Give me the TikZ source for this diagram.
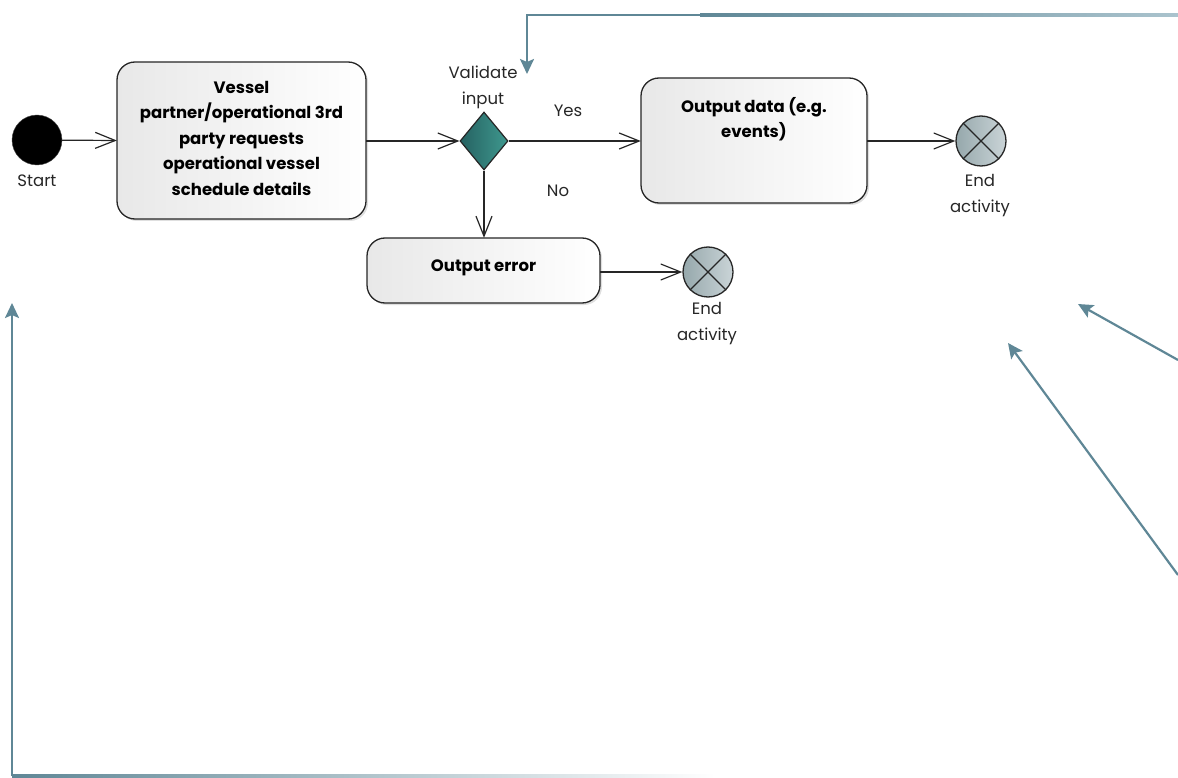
\documentclass[tikz,border=0pt]{standalone}
\usepackage{fontspec}
\setmainfont{Poppins}
\usetikzlibrary{arrows.meta,shapes.geometric,shadows}
\definecolor{conn}{RGB}{95,135,150}
\definecolor{connlight}{RGB}{170,195,205}
\definecolor{endl}{RGB}{150,168,172}
\definecolor{endr}{RGB}{202,212,215}
\definecolor{decl}{RGB}{38,98,98}
\definecolor{decr}{RGB}{62,152,142}
\tikzset{
  action/.style={draw=black!85, line width=1.3pt, rounded corners=18pt, left color=black!9, right color=white, drop shadow={shadow xshift=2pt,shadow yshift=-2pt,opacity=0.25}, inner sep=0pt},
  flow/.style={draw=black!85, line width=1.2pt, -{Straight Barb[length=20pt,width=16pt,line width=1.2pt]}},
  teal/.style={draw=conn, line width=2.2pt, -{Stealth[length=15pt,width=14pt,inset=3pt]}},
  endnode/.style={circle, draw=black!85, line width=1.3pt, minimum size=50pt, inner sep=0pt, left color=endl, right color=endr},
  lbl/.style={font=\fontsize{16.5}{26}\selectfont, align=center, text=black!85},
  btxt/.style={font=\fontsize{16.5}{25.5}\selectfont\bfseries, align=center, text=black},
}
\begin{document}
\begin{tikzpicture}[x=1pt,y=-1pt]
\useasboundingbox (0,0) rectangle (1178,778);
% nodes
\node[circle, fill=black, draw=black!70, minimum size=50pt, inner sep=0pt] (start) at (37,140) {};
\node[lbl] (startl) at (37,181) {Start};
\path[action] (117,62) rectangle (366,219);
\node[minimum width=249pt, minimum height=157pt, inner sep=0pt] (req) at (241.5,140.5) {};
\node[btxt, anchor=north] (reqt) at (241.5,77.5) {Vessel\\partner/operational 3rd\\party requests\\operational vessel\\schedule details};
\node[diamond, aspect=0.83, minimum width=48pt, minimum height=58pt, inner sep=0pt, draw=black!85, line width=1.2pt, left color=decl, right color=decr] (dec) at (484,141) {};
\node[lbl] (declab) at (483,87) {Validate\\input};
\path[action] (641,78) rectangle (867,203);
\node[minimum width=226pt, minimum height=125pt, inner sep=0pt] (outd) at (754,140.5) {};
\node[btxt, anchor=north] (outdt) at (754,93.5) {Output data (e.g.\\events)};
\path[action] (367,238) rectangle (600,303);
\node[minimum width=233pt, minimum height=65pt, inner sep=0pt] (oute) at (483.5,270.5) {};
\node[btxt] (outet) at (483.5,267.5) {Output error};
\node[endnode] (end1) at (981,141) {};
\draw[black!85, line width=1.2pt] (end1.45) -- (end1.225) (end1.135) -- (end1.315);
\node[lbl] (end1l) at (980,196) {End\\activity};
\node[endnode] (end2) at (708,272) {};
\draw[black!85, line width=1.2pt] (end2.45) -- (end2.225) (end2.135) -- (end2.315);
\node[lbl] (end2l) at (707,324) {End\\activity};
\node[lbl] (yes) at (568,111) {Yes};
\node[lbl] (no) at (558,191) {No};
% flows
\draw[flow] (start) -- (req.west);
\draw[flow] (req.east |- dec) -- (dec.west);
\draw[flow] (dec.east) -- (outd.west |- dec);
\draw[flow] (dec.south) -- (oute.north -| dec);
\draw[flow] (oute.east |- end2) -- (end2.west);
\draw[flow] (outd.east |- end1) -- (end1.west);
% teal connectors
\coordinate (t0) at (1178,15);
\coordinate (t1) at (527,15);
\coordinate (t2) at (527,74);
\fill[left color=conn, right color=connlight] (700,13.9) rectangle (1178,16.1);
\draw[teal] (701,15) -- (t1) -- (t2);
\coordinate (b0) at (12,776);
\coordinate (b1) at (12,303);
\fill[left color=conn, right color=white] (12,774.9) rectangle (715,777.1);
\draw[teal] (b0) -- (b1);
\coordinate (d0) at (1178,360);
\coordinate (d1) at (1078,304);
\draw[teal] (d0) -- (d1);
\coordinate (e0) at (1178,575);
\coordinate (e1) at (1008,343);
\draw[teal] (e0) -- (e1);
\end{tikzpicture}
\end{document}
